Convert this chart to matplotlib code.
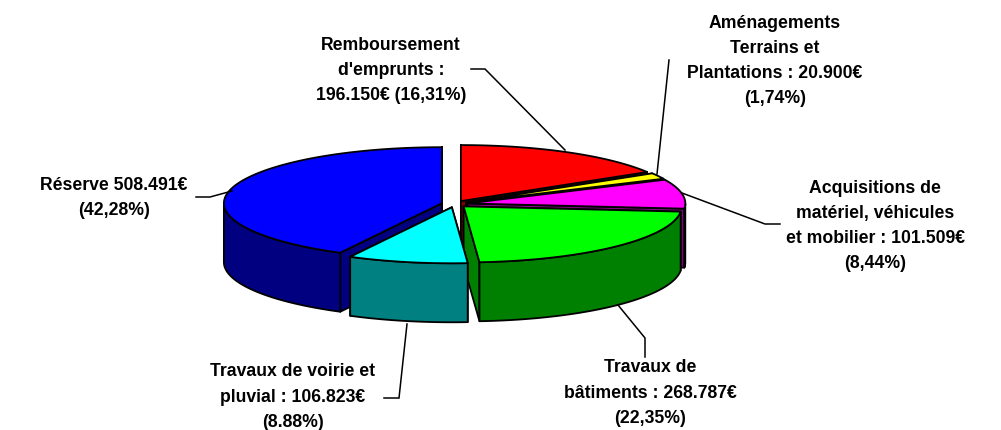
import numpy as np
import matplotlib
matplotlib.use("Agg")
import matplotlib.pyplot as plt

plt.rcParams['font.family'] = ['Liberation Sans', 'DejaVu Sans']

# postes de depense, dans le sens horaire a partir de midi
postes = ["Remboursement", "Aménagements", "Acquisitions", "Bâtiments", "Voirie", "Réserve"]
parts = [16.31, 1.74, 8.44, 22.35, 8.88, 42.28]
couleurs = ['#ff0000', '#ffff00', '#ff00ff', '#00ff00', '#00ffff', '#0000ff']
cotes = ['#800000', '#808000', '#800080', '#008000', '#008080', '#000080']

labels = [
    "Remboursement\nd'emprunts :\n196.150€ (16,31%)",
    "Aménagements\nTerrains et\nPlantations : 20.900€\n(1,74%)",
    "Acquisitions de\nmatériel, véhicules\net mobilier : 101.509€\n(8,44%)",
    "Travaux de\nbâtiments : 268.787€\n(22,35%)",
    "Travaux de voirie et\npluvial : 106.823€\n(8.88%)",
    "Réserve 508.491€\n(42,28%)",
]
label_pos = [(391, 70.5), (775, 61), (875, 226), (650, 393), (293, 397), (114, 198)]
leaders = [
    [(471, 69), (485, 69), (565, 150)],
    [(669, 60), (657, 174)],
    [(780, 224), (765, 224), (682, 193)],
    [(645, 357), (645, 338), (618, 305)],
    [(384, 398), (399, 398), (407, 324)],
    [(196, 197), (210, 197), (232, 191)],
]

cx, cy = 454.5, 204
rx, ry = 218, 56
depth = 59
explode = 13

fig = plt.figure(figsize=(10.01, 4.30), dpi=100)
ax = fig.add_axes([0, 0, 1, 1])
ax.set_xlim(0, 1001)
ax.set_ylim(430, 0)
ax.axis('off')


def point(x0, y0, a):
    return x0 + rx * np.sin(a), y0 - ry * np.cos(a)


bords = np.cumsum([0] + parts) * 2 * np.pi / 100
# ordre de dessin : du fond vers l'avant
for i in [0, 1, 2, 5, 3, 4]:
    a0, a1 = bords[i], bords[i + 1]
    mid = (a0 + a1) / 2
    x0 = cx + explode * np.sin(mid)
    y0 = cy - explode * ry / rx * np.cos(mid)
    t = np.linspace(a0, a1, 80)
    xs, ys = point(x0, y0, t)
    kw = dict(edgecolor='black', linewidth=1.3, joinstyle='round')
    # faces de coupe
    for a in (a0, a1):
        xa, ya = point(x0, y0, a)
        ax.fill([x0, xa, xa, x0], [y0, ya, ya + depth, y0 + depth], facecolor=cotes[i], **kw)
    # face exterieure, partie avant seulement
    front = np.cos(t) <= 0
    if front.any():
        xf, yf = xs[front], ys[front]
        ax.fill(np.r_[xf, xf[::-1]], np.r_[yf, yf[::-1] + depth], facecolor=cotes[i], **kw)
    ax.fill(np.r_[x0, xs], np.r_[y0, ys], facecolor=couleurs[i], **kw)

for pts in leaders:
    ax.plot(*zip(*pts), color='black', lw=1.1, solid_joinstyle='miter')

for txt, (x, y) in zip(labels, label_pos):
    ax.text(x, y, txt, ha='center', va='center', fontsize=12.7, fontweight='bold',
            linespacing=1.64, color='black', clip_on=False)

fig.savefig('out.png', dpi=100)
